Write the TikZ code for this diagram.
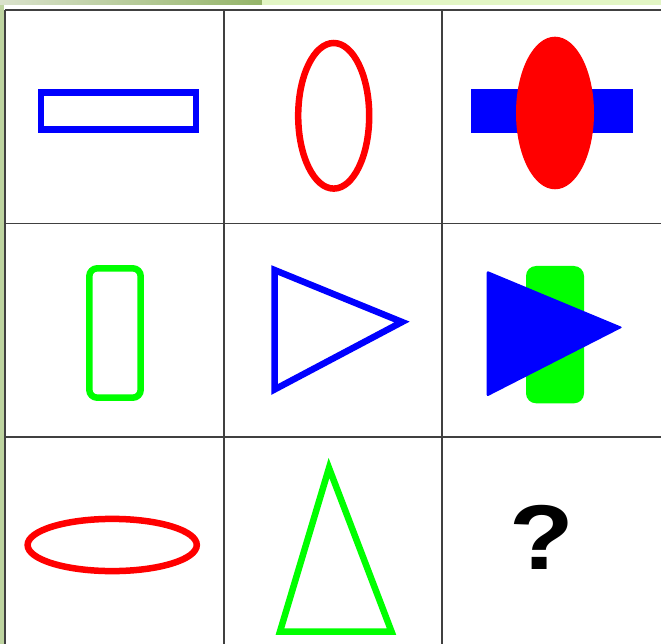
\documentclass[tikz,border=0pt]{standalone}
\usepackage{fontspec}
\setmainfont{Liberation Sans}
\usepackage{tikz}
\usetikzlibrary{calc}
\definecolor{pureblue}{RGB}{0,0,255}
\definecolor{purered}{RGB}{255,0,0}
\definecolor{puregreen}{RGB}{0,255,0}
\definecolor{gridgray}{RGB}{64,64,64}
\definecolor{stripleft}{RGB}{218,226,204}
\definecolor{stripdark}{RGB}{148,180,104}
\definecolor{striplight}{RGB}{226,245,196}
\definecolor{sidegreen}{RGB}{190,212,160}
\tikzset{
	gridline/.style={
		draw=gridgray,
		line width=1.5pt
	},
	outline/.style={
		line width=6.5pt,
		line join=miter
	}
}

\begin{document}
\begin{tikzpicture}[x=1pt,y=-1pt]
	\useasboundingbox (0,0) rectangle (661,644);
	
	% --- BACKGROUND ---
	\fill[white] (0,0) rectangle (661,644);
	\shade[left color=stripleft, right color=stripdark] (0,0) rectangle (262,5);
	\fill[striplight] (262,0) rectangle (661,5);
	\fill[sidegreen] (0,5) rectangle (4,644);
	
	% --- GRID ---
	\foreach \x in {5,224,442} {
		\draw[gridline] (\x,10) -- (\x,644);
	}
	\foreach \y in {10,223.5,437} {
		\draw[gridline] (5,\y) -- (661,\y);
	}
	
	% --- ROW 1 ---
	\draw[outline, draw=pureblue] (40.8,92.6) rectangle (195.8,129.3);
	\draw[outline, draw=purered] (333.7,115.8) ellipse [x radius=35.5pt, y radius=72.8pt];
	\fill[pureblue] (471,89) rectangle (633.3,133.3);
	\fill[purered] (555,113) ellipse [x radius=39pt, y radius=76.3pt];
	
	% --- ROW 2 ---
	\draw[outline, draw=puregreen, rounded corners=8pt] (89.3,268.3) rectangle (140.7,397.7);
	\draw[outline, draw=pureblue] (274.5,270) -- (274.5,389.5) -- (402,322) -- cycle;
	\fill[puregreen, rounded corners=10pt] (526,266) rectangle (584,403.3);
	\fill[pureblue, rounded corners=2pt] (486.7,270.7) -- (486.7,396.7) -- (622.7,327.3) -- cycle;
	
	% --- ROW 3 ---
	\draw[outline, draw=purered] (112.2,545) ellipse [x radius=84.6pt, y radius=26.1pt];
	\draw[outline, draw=puregreen] (329,468) -- (280,631.5) -- (391.5,631.5) -- cycle;
	\node[font=\fontsize{92}{92}\selectfont\bfseries, inner sep=0pt, xscale=1.15] (qmark) at (542,537) {?};
	
\end{tikzpicture}
\end{document}
